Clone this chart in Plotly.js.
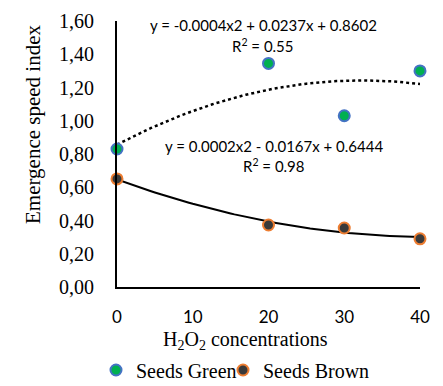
<!DOCTYPE html>
<html><head><meta charset="utf-8">
<script src="https://cdn.plot.ly/plotly-3.0.1.min.js"></script>
<style>html,body{margin:0;padding:0;background:#fff}#c{width:443px;height:386px}</style>
</head><body><div id="c"></div>
<script>
const concentrations = [0, 20, 30, 40];
const seedsGreen = [0.83, 1.345, 1.03, 1.30];
const seedsBrown = [0.65, 0.373, 0.355, 0.29];
const yTicks = [0, 0.2, 0.4, 0.6, 0.8, 1.0, 1.2, 1.4, 1.6];
const xTicks = [0, 10, 20, 30, 40];
const eqGreen = "y = -0.0004x2 + 0.0237x + 0.8602";
const r2Green = "R<sup>2</sup> = 0.55";
const eqBrown = "y = 0.0002x2 - 0.0167x + 0.6444";
const r2Brown = "R<sup>2</sup> = 0.98";
const yTitle = "Emergence speed index";
const xTitle = "H<sub>2</sub>O<sub>2</sub> concentrations";

// least-squares quadratic trendline (like a spreadsheet polynomial trendline)
function polyFit2(xs, ys) {
  const S = [0,0,0,0,0], T = [0,0,0];
  xs.forEach((x,i)=>{ for(let k=0;k<5;k++) S[k]+=Math.pow(x,k); for(let k=0;k<3;k++) T[k]+=ys[i]*Math.pow(x,k); });
  const A = [[S[0],S[1],S[2],T[0]],[S[1],S[2],S[3],T[1]],[S[2],S[3],S[4],T[2]]];
  for(let i=0;i<3;i++){ for(let j=i+1;j<3;j++){ const f=A[j][i]/A[i][i]; for(let k=i;k<4;k++) A[j][k]-=f*A[i][k]; } }
  const c=[0,0,0];
  for(let i=2;i>=0;i--){ let s=A[i][3]; for(let k=i+1;k<3;k++) s-=A[i][k]*c[k]; c[i]=s/A[i][i]; }
  return c;
}
function trend(xs, ys) {
  const c = polyFit2(xs, ys);
  const tx = [], ty = [];
  const lo = Math.min(...xs), hi = Math.max(...xs);
  for (let i = 0; i <= 80; i++) { const x = lo + (hi-lo)*i/80; tx.push(x); ty.push(c[0]+c[1]*x+c[2]*x*x); }
  return {tx, ty};
}
const tg = trend(concentrations, seedsGreen);
const tb = trend(concentrations, seedsBrown);

const serif = "Liberation Serif";
const sans = "Lato";

const data = [
  {x: tg.tx, y: tg.ty, mode: 'lines', line: {color: '#000', width: 2.5, dash: 'dot'}, showlegend: false, hoverinfo: 'skip'},
  {x: tb.tx, y: tb.ty, mode: 'lines', line: {color: '#000', width: 2}, showlegend: false, hoverinfo: 'skip'},
  {x: concentrations, y: seedsGreen, mode: 'markers', name: 'Seeds Green', cliponaxis: false, legend: 'legend',
   marker: {size: 11, color: '#00b050', line: {color: '#4472c4', width: 2}}},
  {x: concentrations, y: seedsBrown, mode: 'markers', name: 'Seeds Brown', cliponaxis: false, legend: 'legend2',
   marker: {size: 11, color: '#3a3a3a', line: {color: '#ed7d31', width: 2}}}
];

const legendBase = {orientation: 'h', xref: 'container', yref: 'container', xanchor: 'left', y: (386-370)/386, yanchor: 'middle',
    font: {family: serif, size: 20, color: '#000'}, itemwidth: 30, bgcolor: 'rgba(0,0,0,0)'};

const layout = {
  width: 443, height: 386,
  margin: {l: 117, r: 23, t: 21, b: 99},
  paper_bgcolor: '#fff', plot_bgcolor: '#fff',
  separators: ',.',
  showlegend: true,
  font: {family: serif, color: '#000'},
  xaxis: {range: [0, 40], tickvals: xTicks, showgrid: false, zeroline: false,
    showline: true, linecolor: '#000', linewidth: 2, ticks: '', ticklabelstandoff: 14,
    tickfont: {family: sans, size: 17, color: '#000'}},
  yaxis: {range: [0, 1.6], tickvals: yTicks, tickformat: '.2f', showgrid: false, zeroline: false,
    showline: true, linecolor: '#000', linewidth: 2, ticks: '', ticklabelstandoff: 17,
    tickfont: {family: serif, size: 20, color: '#000'}},
  legend: Object.assign({}, legendBase, {x: 96/443}),
  legend2: Object.assign({}, legendBase, {x: 223/443}),
  annotations: [
    {text: yTitle, xref: 'paper', yref: 'paper', x: (33-117)/303, y: (287-124)/266, textangle: -90, showarrow: false,
     xanchor: 'center', yanchor: 'middle', font: {family: serif, size: 21, color: '#000'}},
    {text: xTitle, xref: 'paper', yref: 'paper', x: (245-117)/303, y: (287-340)/266, showarrow: false,
     xanchor: 'center', yanchor: 'middle', font: {family: serif, size: 20, color: '#000'}},
    {text: eqGreen, xref: 'paper', yref: 'paper', x: (263-117)/303, y: (287-25)/266, xanchor: 'center', yanchor: 'middle', showarrow: false, font: {family: sans, size: 15, color: '#000'}},
    {text: r2Green, xref: 'paper', yref: 'paper', x: (263-117)/303, y: (287-45)/266, xanchor: 'center', yanchor: 'middle', showarrow: false, font: {family: sans, size: 15, color: '#000'}},
    {text: eqBrown, xref: 'paper', yref: 'paper', x: (274-117)/303, y: (287-146)/266, xanchor: 'center', yanchor: 'middle', showarrow: false, font: {family: sans, size: 15, color: '#000'}},
    {text: r2Brown, xref: 'paper', yref: 'paper', x: (274-117)/303, y: (287-165)/266, xanchor: 'center', yanchor: 'middle', showarrow: false, font: {family: sans, size: 15, color: '#000'}}
  ]
};
Plotly.newPlot('c', data, layout, {displayModeBar: false, staticPlot: true});
</script></body></html>
